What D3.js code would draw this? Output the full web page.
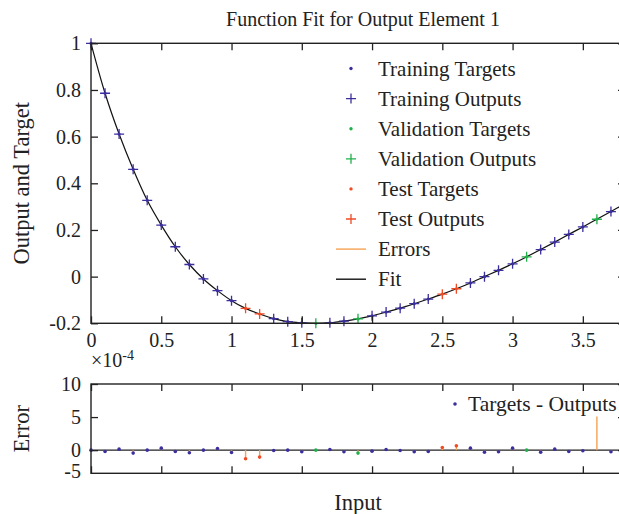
<!DOCTYPE html>
<html>
<head>
<meta charset="utf-8">
<script src="https://cdn.jsdelivr.net/npm/d3@7"></script>
<style>
  html, body { margin: 0; padding: 0; background: #fff; }
  svg { display: block; }
  text { font-family: "Liberation Serif", "Times New Roman", serif; fill: #222; }
</style>
</head>
<body>
<svg id="chart" width="619" height="514"></svg>
<script>
// ---- data ----
const inputs = [0,0.1,0.2,0.3,0.4,0.5,0.6,0.7,0.8,0.9,1.0,1.1,1.2,1.3,1.4,1.5,1.6,1.7,1.8,1.9,
                2.0,2.1,2.2,2.3,2.4,2.5,2.6,2.7,2.8,2.9,3.0,3.1,3.2,3.3,3.4,3.5,3.6,3.7];
const outputs = [1.0,0.786,0.611,0.46,0.327,0.221,0.128,0.052,-0.01,-0.06,-0.103,-0.136,-0.16,-0.18,-0.193,-0.198,-0.2,-0.198,-0.191,-0.181,
                 -0.168,-0.152,-0.135,-0.116,-0.096,-0.075,-0.052,-0.027,0.0,0.027,0.055,0.085,0.116,0.148,0.181,0.213,0.246,0.279];
// errors in units of 1e-4
const errors = [0,-0.2,0.15,-0.45,0,0.3,-0.2,-0.4,0,0.25,-0.35,-1.3,-1.05,-0.05,0,-0.25,0,0.1,-0.25,-0.45,
                -0.15,0.1,-0.05,-0.25,-0.2,0.4,0.65,0.3,-0.3,-0.25,0.3,0,-0.3,0.15,-0.2,-0.1,5.1,-0.25];
const subsets = ["tr","tr","tr","tr","tr","tr","tr","tr","tr","tr","tr","te","te","tr","tr","tr","va","tr","tr","va",
                 "tr","tr","tr","tr","tr","te","te","tr","tr","tr","tr","va","tr","tr","tr","tr","va","tr"];
const fitInputs = [0,0.1,0.2,0.3,0.4,0.5,0.6,0.7,0.8,0.9,1.0,1.1,1.2,1.3,1.4,1.5,1.6,1.7,1.8,1.9,
                   2.0,2.1,2.2,2.3,2.4,2.5,2.6,2.7,2.8,2.9,3.0,3.1,3.2,3.3,3.4,3.5,3.6,3.7,3.8];
const fitValues = [1.0,0.786,0.611,0.46,0.327,0.221,0.128,0.052,-0.01,-0.06,-0.103,-0.136,-0.16,-0.18,-0.193,-0.198,-0.2,-0.198,-0.191,-0.181,
                   -0.168,-0.152,-0.135,-0.116,-0.096,-0.075,-0.052,-0.027,0.0,0.027,0.055,0.085,0.116,0.148,0.181,0.213,0.246,0.279,0.313];
const xTicks = [0,0.5,1,1.5,2,2.5,3,3.5];
const yTicks = [-0.2,0,0.2,0.4,0.6,0.8,1];
const errTicks = [-5,0,5,10];
const legendLabels = ["Training Targets","Training Outputs","Validation Targets","Validation Outputs","Test Targets","Test Outputs","Errors","Fit"];
const errLegendLabel = "Targets - Outputs";

const colors = { tr: "#3b2f9e", va: "#1fb04a", te: "#ef4b24", err: "#f6a252", fit: "#111" };

// ---- layout ----
const svg = d3.select("#chart");
const W = 619, H = 514;
svg.append("rect").attr("width", W).attr("height", H).attr("fill", "#fff");

const x = d3.scaleLinear().domain([0, 3.8]).range([91, 625]);
const y = d3.scaleLinear().domain([-0.2, 1]).range([323.3, 43.3]);
const ye = d3.scaleLinear().domain([-3.5, 10]).range([473.3, 384]);

const FS = 20;      // tick labels
const FL = 21;      // legend
const FT = 20;      // title
const FA = 22.5;    // axis labels
const axisColor = "#222";
const fmt = d => String(+(+d).toFixed(2)).replace("\u2212", "-");

function frame(g, top_, bottom, left, right) {
  g.append("rect").attr("x", left).attr("y", top_).attr("width", right - left).attr("height", bottom - top_)
    .attr("fill", "none").attr("stroke", axisColor).attr("stroke-width", 1.4);
}

// ---------- top plot ----------
const gTop = svg.append("g");
const pTop = 43.3, pBot = 323.3, pL = 91, pR = 625;

const line = d3.line().x((d, i) => x(fitInputs[i])).y(d => y(d)).curve(d3.curveCatmullRom.alpha(0.5));
gTop.append("path").datum(fitValues).attr("d", line).attr("fill", "none")
  .attr("stroke", colors.fit).attr("stroke-width", 1.2);

const pts = inputs.map((v, i) => ({ x: v, out: outputs[i], tgt: outputs[i] + errors[i] * 1e-4, s: subsets[i], e: errors[i] }));
gTop.selectAll("circle.t").data(pts).join("circle")
  .attr("cx", d => x(d.x)).attr("cy", d => y(d.tgt)).attr("r", 1.6).attr("fill", d => colors[d.s]);
const plus = "M-5,0H5M0,-5V5";
gTop.selectAll("path.o").data(pts).join("path")
  .attr("d", plus).attr("transform", d => `translate(${x(d.x)},${y(d.out)})`)
  .attr("stroke", d => colors[d.s]).attr("stroke-width", 1.3).attr("fill", "none");

frame(gTop, pTop, pBot, pL, pR);
const tickLen = 7;
const axL = gTop.append("g").attr("transform", `translate(${pL},0)`)
  .call(d3.axisLeft(y).tickValues(yTicks).tickSizeInner(-tickLen).tickSizeOuter(0).tickPadding(10).tickFormat(fmt));
const axR = gTop.append("g").attr("transform", `translate(${pR},0)`)
  .call(d3.axisRight(y).tickValues(yTicks).tickSizeInner(-tickLen).tickSizeOuter(0).tickFormat(""));
const axB = gTop.append("g").attr("transform", `translate(0,${pBot})`)
  .call(d3.axisBottom(x).tickValues(xTicks).tickSizeInner(-tickLen).tickSizeOuter(0).tickPadding(10).tickFormat(fmt));
const axT = gTop.append("g").attr("transform", `translate(0,${pTop})`)
  .call(d3.axisTop(x).tickValues(xTicks).tickSizeInner(-tickLen).tickSizeOuter(0).tickFormat(""));
[axL, axR, axB, axT].forEach(a => {
  a.select(".domain").remove();
  a.selectAll(".tick line").attr("stroke", axisColor).attr("stroke-width", 1.3);
  a.selectAll("text").attr("font-size", FS).attr("font-family", "Liberation Serif").attr("fill", "#222");
});

svg.append("text").attr("x", 363).attr("y", 26).attr("text-anchor", "middle").attr("font-size", FT)
  .text("Function Fit for Output Element 1");
svg.append("text").attr("transform", `translate(29,${(pTop + pBot) / 2}) rotate(-90)`)
  .attr("text-anchor", "middle").attr("font-size", FA).text("Output and Target");

// legend
const lg = svg.append("g");
const lgX = 351, lgTextX = 378, lgY0 = 68.5, lgDy = 30.1;
const legendKinds = [["dot","tr"],["plus","tr"],["dot","va"],["plus","va"],["dot","te"],["plus","te"],["line","err"],["line","fit"]];
legendLabels.forEach((lab, i) => {
  const cy = lgY0 + i * lgDy;
  const [kind, c] = legendKinds[i];
  if (kind === "dot") lg.append("circle").attr("cx", lgX).attr("cy", cy).attr("r", 1.7).attr("fill", colors[c]);
  else if (kind === "plus") lg.append("path").attr("d", plus).attr("transform", `translate(${lgX},${cy})`)
    .attr("stroke", colors[c]).attr("stroke-width", 1.3);
  else lg.append("line").attr("x1", 336).attr("x2", 366).attr("y1", cy).attr("y2", cy)
    .attr("stroke", colors[c]).attr("stroke-width", 1.4);
  lg.append("text").attr("x", lgTextX).attr("y", cy + 7).attr("font-size", FL).text(lab);
});

// ---------- error plot ----------
const eg = svg.append("g");
const eTop = 384, eBot = 473.3;
eg.append("line").attr("x1", pL).attr("x2", pR).attr("y1", ye(0)).attr("y2", ye(0))
  .attr("stroke", axisColor).attr("stroke-width", 1.3);
eg.selectAll("line.stem").data(pts).join("line")
  .attr("x1", d => x(d.x)).attr("x2", d => x(d.x)).attr("y1", ye(0)).attr("y2", d => ye(d.e))
  .attr("stroke", colors.err).attr("stroke-width", 1.4);
eg.selectAll("circle.e").data(pts.filter(d => Math.abs(d.e) < 3)).join("circle")
  .attr("cx", d => x(d.x)).attr("cy", d => ye(d.e)).attr("r", 1.8).attr("fill", d => colors[d.s]);

frame(eg, eTop, eBot, pL, pR);
const eL = eg.append("g").attr("transform", `translate(${pL},0)`)
  .call(d3.axisLeft(ye).tickValues([0,5,10]).tickSizeInner(-tickLen).tickSizeOuter(0).tickPadding(10).tickFormat(fmt));
const eR = eg.append("g").attr("transform", `translate(${pR},0)`)
  .call(d3.axisRight(ye).tickValues([0,5,10]).tickSizeInner(-tickLen).tickSizeOuter(0).tickFormat(""));
const eB = eg.append("g").attr("transform", `translate(0,${eBot})`)
  .call(d3.axisBottom(x).tickValues(xTicks).tickSizeInner(-tickLen).tickSizeOuter(0).tickFormat(""));
const eT = eg.append("g").attr("transform", `translate(0,${eTop})`)
  .call(d3.axisTop(x).tickValues(xTicks).tickSizeInner(-tickLen).tickSizeOuter(0).tickFormat(""));
[eL, eR, eB, eT].forEach(a => {
  a.select(".domain").remove();
  a.selectAll(".tick line").attr("stroke", axisColor).attr("stroke-width", 1.3);
  a.selectAll("text").attr("font-size", FS).attr("font-family", "Liberation Serif").attr("fill", "#222");
});
eg.append("text").attr("x", pL - 10).attr("y", eBot + 5).attr("text-anchor", "end").attr("font-size", FS).text(fmt(errTicks[0]));

const ex = svg.append("text").attr("x", 91).attr("y", 367).attr("font-size", FS);
ex.append("tspan").text("×10");
ex.append("tspan").attr("dy", -7).attr("font-size", 14).text("-4");

svg.append("text").attr("transform", `translate(29,${(eTop + eBot) / 2}) rotate(-90)`)
  .attr("text-anchor", "middle").attr("font-size", FA).text("Error");
svg.append("text").attr("x", 358).attr("y", 510).attr("text-anchor", "middle").attr("font-size", FA).text("Input");

svg.append("circle").attr("cx", 455).attr("cy", 404).attr("r", 1.8).attr("fill", colors.tr);
svg.append("text").attr("x", 468).attr("y", 411).attr("font-size", 21.5).text(errLegendLabel);
</script>
</body>
</html>
